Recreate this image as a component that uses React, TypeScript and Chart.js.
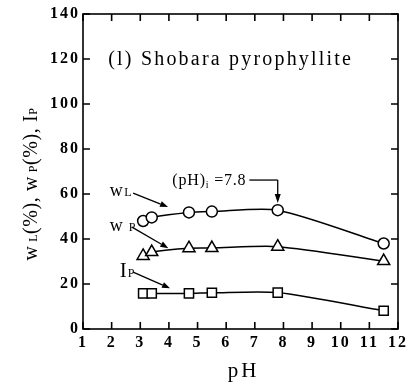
import { useEffect, useRef } from "react";
import { Chart, registerables } from "chart.js";

Chart.register(...registerables);

// pH of the suspension and the Atterberg limits measured at each pH
const phValues = [3.1, 3.4, 4.7, 5.5, 7.8, 11.5];
const liquidLimit = [48.0, 49.6, 51.8, 52.2, 52.8, 38.0];
const plasticLimit = [32.5, 34.2, 35.9, 36.0, 36.6, 30.2];
const plasticityIndex = [15.8, 15.8, 15.8, 16.1, 16.2, 8.1];

const xTicks = [1, 2, 3, 4, 5, 6, 7, 8, 9, 10, 11, 12];
const yTicks = [0, 20, 40, 60, 80, 100, 120, 140];

const panelTitle = "(l) Shobara pyrophyllite";
const isoelectricPH = 7.8;

const SERIF = '"Liberation Serif", "DejaVu Serif", serif';

type Seg = { t: string; size: number; sub?: boolean };

function richWidth(ctx: CanvasRenderingContext2D, segs: Seg[], spacing: number) {
  let w = 0;
  for (const s of segs) {
    ctx.font = `${s.size}px ${SERIF}`;
    ctx.letterSpacing = `${spacing}px`;
    w += ctx.measureText(s.t).width;
  }
  return w;
}

// Draws a run of text pieces with optional lowered subscripts; returns its width.
function drawRich(
  ctx: CanvasRenderingContext2D,
  x: number,
  y: number,
  segs: Seg[],
  spacing: number
) {
  let cx = x;
  for (const s of segs) {
    ctx.font = `${s.size}px ${SERIF}`;
    ctx.letterSpacing = `${spacing}px`;
    ctx.fillText(s.t, cx, y + (s.sub ? s.size * 0.3 : 0));
    cx += ctx.measureText(s.t).width;
  }
  return cx - x;
}

function arrow(
  ctx: CanvasRenderingContext2D,
  x1: number,
  y1: number,
  x2: number,
  y2: number,
  head = 8
) {
  const ang = Math.atan2(y2 - y1, x2 - x1);
  const bx = x2 - head * Math.cos(ang);
  const by = y2 - head * Math.sin(ang);
  ctx.beginPath();
  ctx.moveTo(x1, y1);
  ctx.lineTo(bx, by);
  ctx.stroke();
  ctx.beginPath();
  ctx.moveTo(x2, y2);
  ctx.lineTo(bx + 3 * Math.sin(ang), by - 3 * Math.cos(ang));
  ctx.lineTo(bx - 3 * Math.sin(ang), by + 3 * Math.cos(ang));
  ctx.closePath();
  ctx.fill();
}

// Frame with inward tick marks on all four sides, plus the text callouts
const framePlugin = {
  id: "frame",
  beforeDraw(chart: any) {
    chart.ctx.letterSpacing = "2px";
  },
  afterDatasetsDraw(chart: any) {
    const { ctx, chartArea: a, scales } = chart;
    const xs = scales.x;
    const ys = scales.y;
    ctx.save();
    ctx.letterSpacing = "0px";
    ctx.strokeStyle = "#000";
    ctx.lineWidth = 1.6;
    ctx.strokeRect(a.left, a.top, a.right - a.left, a.bottom - a.top);
    const len = 7;
    ctx.beginPath();
    for (const v of xTicks) {
      const px = xs.getPixelForValue(v);
      ctx.moveTo(px, a.bottom);
      ctx.lineTo(px, a.bottom - len);
      ctx.moveTo(px, a.top);
      ctx.lineTo(px, a.top + len);
    }
    for (const v of yTicks) {
      const py = ys.getPixelForValue(v);
      ctx.moveTo(a.left, py);
      ctx.lineTo(a.left + len, py);
      ctx.moveTo(a.right, py);
      ctx.lineTo(a.right - len, py);
    }
    ctx.stroke();
    ctx.restore();
  },
  afterDraw(chart: any) {
    const { ctx, scales } = chart;
    const xs = scales.x;
    const ys = scales.y;
    const X = (v: number) => xs.getPixelForValue(v);
    const Y = (v: number) => ys.getPixelForValue(v);
    ctx.save();
    ctx.fillStyle = "#000";
    ctx.strokeStyle = "#000";
    ctx.lineWidth = 1.3;
    ctx.textBaseline = "alphabetic";
    ctx.textAlign = "left";

    // panel title
    drawRich(ctx, X(1.88), Y(120.4) + 7, [{ t: panelTitle, size: 20 }], 2.2);

    // series labels with pointer arrows
    drawRich(ctx, X(1.93), Y(61.3) + 5, [
      { t: "w", size: 18 },
      { t: "L", size: 12 },
    ], 1.5);
    arrow(ctx, X(2.75), Y(60.4), X(3.97), Y(54.2));

    drawRich(ctx, X(1.93), Y(45.8) + 5, [
      { t: "w", size: 18 },
      { t: " P", size: 12 },
    ], 1.5);
    arrow(ctx, X(2.71), Y(45.3), X(3.98), Y(35.9));

    drawRich(ctx, X(2.28), Y(26.2) + 7, [
      { t: "I", size: 21 },
      { t: "P", size: 12 },
    ], 1);
    arrow(ctx, X(2.75), Y(25.3), X(4.04), Y(18.1));

    // isoelectric point callout
    const w = drawRich(ctx, X(4.12), Y(66.2) + 5, [
      { t: "(pH)", size: 16 },
      { t: "i", size: 10, sub: true },
      { t: " =" + isoelectricPH.toFixed(1), size: 16 },
    ], 0.8);
    const lx = X(4.12) + w + 3;
    ctx.beginPath();
    ctx.moveTo(lx, Y(66.2));
    ctx.lineTo(X(isoelectricPH), Y(66.2));
    ctx.stroke();
    arrow(ctx, X(isoelectricPH), Y(66.2), X(isoelectricPH), Y(56), 9);

    // x axis title
    const pw = richWidth(ctx, [{ t: "pH", size: 21 }], 3);
    drawRich(ctx, 242 - pw / 2 + 1.5, 377, [{ t: "pH", size: 21 }], 3);

    // y axis title (rotated)
    const ySegs: Seg[] = [
      { t: "w", size: 20 },
      { t: " L", size: 12 },
      { t: "(%), w", size: 20 },
      { t: " P", size: 12 },
      { t: "(%), I", size: 20 },
      { t: "P", size: 12 },
    ];
    const yw = richWidth(ctx, ySegs, 0.6);
    ctx.translate(30, 184);
    ctx.rotate(-Math.PI / 2);
    drawRich(ctx, -yw / 2, 7, ySegs, 0.6);
    ctx.restore();
    chart.ctx.letterSpacing = "0px";
  },
};

export default function App() {
  const ref = useRef<HTMLCanvasElement | null>(null);

  useEffect(() => {
    if (!ref.current) return;
    const toPts = (ys: number[]) => phValues.map((x, i) => ({ x, y: ys[i] }));
    const common = {
      borderColor: "#000",
      borderWidth: 1.5,
      pointBackgroundColor: "#fff",
      pointBorderColor: "#000",
      pointBorderWidth: 1.5,
      tension: 0.25,
      showLine: true,
      fill: false,
    };
    const tickFont = { family: SERIF, size: 16, weight: "bold" as const };
    const chart = new Chart(ref.current, {
      type: "scatter",
      data: {
        datasets: [
          { ...common, label: "wL", data: toPts(liquidLimit), pointStyle: "circle", pointRadius: 5.5 },
          { ...common, label: "wP", data: toPts(plasticLimit), pointStyle: "triangle", pointRadius: 7 },
          { ...common, label: "IP", data: toPts(plasticityIndex), pointStyle: "rect", pointRadius: 6.5 },
        ],
      },
      options: {
        animation: false,
        responsive: false,
        events: [],
        layout: { padding: { top: 14, right: 14, left: 0, bottom: 0 } },
        plugins: { legend: { display: false }, tooltip: { enabled: false } },
        scales: {
          x: {
            type: "linear",
            min: 1,
            max: 12,
            afterFit: (s: any) => {
              s.height = 55;
            },
            afterBuildTicks: (s: any) => {
              s.ticks = xTicks.map((v) => ({ value: v }));
            },
            grid: { display: false, drawTicks: false },
            border: { display: false },
            ticks: { padding: 4, color: "#000", font: tickFont },
          },
          y: {
            type: "linear",
            min: 0,
            max: 140,
            afterFit: (s: any) => {
              s.width = 83;
            },
            afterBuildTicks: (s: any) => {
              s.ticks = yTicks.map((v) => ({ value: v }));
            },
            grid: { display: false, drawTicks: false },
            border: { display: false },
            ticks: { padding: 3, color: "#000", font: tickFont },
          },
        },
      },
      plugins: [framePlugin],
    });
    return () => chart.destroy();
  }, []);

  return (
    <div style={{ position: "absolute", left: 0, top: 0, width: 412, height: 384, background: "#fff" }}>
      <canvas ref={ref} width={412} height={384} style={{ width: 412, height: 384 }} />
    </div>
  );
}
